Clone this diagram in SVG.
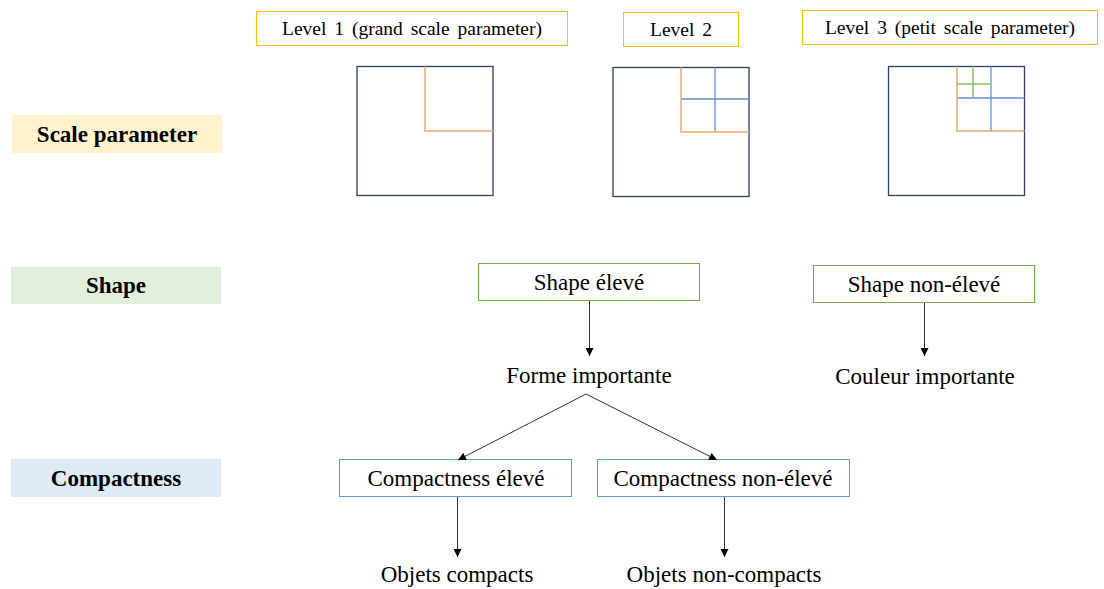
<svg xmlns="http://www.w3.org/2000/svg" width="1104" height="589" viewBox="0 0 1104 589" font-family="'Liberation Serif', serif">
<style>
text{font-family:"Liberation Serif",serif;fill:#000}
.t{font-size:23px}
.lv{font-size:19.5px;word-spacing:3px}
.b{font-size:23px;font-weight:bold}
.lvbox{fill:#fff;stroke:#FFC000;stroke-width:1}
.gbox{fill:#fff;stroke:#70AD47;stroke-width:1}
.bbox{fill:#fff;stroke:#5B9BD5;stroke-width:1}
.sq{fill:#fff;stroke:#2F3F66;stroke-width:1.3}
.or{stroke:#F4A472;stroke-width:1.5;fill:none}
.bl{stroke:#6A8FD8;stroke-width:1.3;fill:none}
.gr{stroke:#8CBF6A;stroke-width:1.5;fill:none}
.c{stroke:#333;stroke-width:1;fill:none;marker-end:url(#ah)}
</style>
<defs>
<marker id="ah" viewBox="0 0 10 10" refX="10" refY="5" markerWidth="8" markerHeight="8" markerUnits="userSpaceOnUse" orient="auto">
<path d="M0,0 L10,5 L0,10 z" fill="#000"/>
</marker>
</defs>
<rect width="1104" height="589" fill="#fff"/>

<g id="level1"><rect class="lvbox" x="256.5" y="11.5" width="311" height="34"/><text class="lv" x="412" y="35" text-anchor="middle">Level 1 (grand scale parameter)</text></g>
<g id="level2"><rect class="lvbox" x="623.5" y="12.5" width="115" height="34"/><text class="lv" x="681" y="36" text-anchor="middle">Level 2</text></g>
<g id="level3"><rect class="lvbox" x="802.5" y="10.5" width="295" height="34"/><text class="lv" x="950" y="34" text-anchor="middle">Level 3 (petit scale parameter)</text></g>

<g id="square1"><rect class="sq" x="357" y="66.5" width="136" height="129"/><path class="or" d="M425,66.5 V131 H493"/></g>
<g id="square2"><rect class="sq" x="613" y="67.5" width="136" height="129"/><path class="bl" d="M715,67.5 V132 M681,99 H749"/><path class="or" d="M681,67.5 V132 H749"/></g>
<g id="square3"><rect class="sq" x="888.5" y="66.5" width="136" height="129"/><path class="bl" d="M991,66.5 V131 M957,98 H1024.5"/><path class="gr" d="M973,66.5 V98 M957,84 H991"/><path class="or" d="M957,66.5 V131 H1024.5"/></g>

<g id="lbl-scale"><rect x="12" y="115" width="210" height="38" fill="#FFF2CC"/><text class="b" x="117" y="142" text-anchor="middle">Scale parameter</text></g>
<g id="lbl-shape"><rect x="11" y="267" width="210" height="37" fill="#E2EFDA"/><text class="b" x="116" y="293" text-anchor="middle">Shape</text></g>
<g id="lbl-compact"><rect x="11" y="459" width="210" height="38" fill="#DDEBF7"/><text class="b" x="116" y="486" text-anchor="middle">Compactness</text></g>

<g id="shape-eleve"><rect class="gbox" x="478.5" y="263.5" width="221" height="37"/><text class="t" x="589" y="290" text-anchor="middle">Shape élevé</text></g>
<g id="shape-non"><rect class="gbox" x="813.5" y="265.5" width="221" height="37"/><text class="t" x="924" y="292" text-anchor="middle">Shape non-élevé</text></g>
<g id="forme"><text class="t" x="589" y="383" text-anchor="middle">Forme importante</text></g>
<g id="couleur"><text class="t" x="925" y="384" text-anchor="middle">Couleur importante</text></g>
<g id="compact-eleve"><rect class="bbox" x="339.5" y="459.5" width="232" height="37"/><text class="t" x="456" y="486" text-anchor="middle">Compactness élevé</text></g>
<g id="compact-non"><rect class="bbox" x="597.5" y="459.5" width="252" height="37"/><text class="t" x="723" y="486" text-anchor="middle">Compactness non-élevé</text></g>
<g id="obj-compact"><text class="t" x="457" y="582" text-anchor="middle">Objets compacts</text></g>
<g id="obj-non"><text class="t" x="724" y="582" text-anchor="middle">Objets non-compacts</text></g>

<g id="connectors">
<path class="c" d="M589.5,301 V356"/>
<path class="c" d="M924.5,303 V356"/>
<path class="c" d="M586,394 L458,460"/>
<path class="c" d="M586,394 L717,460"/>
<path class="c" d="M457.5,497 V557"/>
<path class="c" d="M724.5,497 V557"/>
</g>
</svg>
